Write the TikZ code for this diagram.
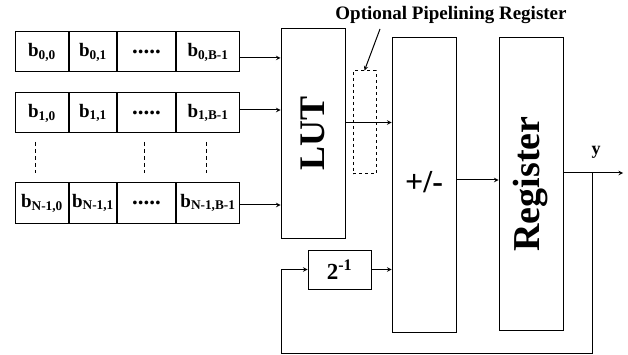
\documentclass[tikz,border=0pt]{standalone}
\usepackage{fontspec}
\setmainfont{Liberation Serif}

\tikzset{
    blk/.style={draw, line width=1pt, inner sep=0pt, font=\bfseries},
    cell/.style={draw, line width=1pt, inner sep=0pt, anchor=west,
        minimum width=#1, minimum height=40pt,
        font=\fontsize{19}{19}\selectfont\bfseries},
}

\begin{document}
\begin{tikzpicture}[x=1pt, y=-1pt, >=stealth, line width=1pt]
    \useasboundingbox (0,0) rectangle (628,355);

    % main blocks
    \node[blk, minimum width=64pt, minimum height=209pt,
        font=\fontsize{36}{36}\selectfont\bfseries] (lut) at (313,133.5) {\rotatebox{90}{LUT}};
    \node[blk, dashed, minimum width=23pt, minimum height=103pt] (pipe) at (364.5,122.5) {};
    \node[blk, minimum width=64pt, minimum height=294pt,
        font=\fontsize{32}{32}\selectfont\bfseries] (add) at (424,185) {\raisebox{6pt}{+/-}};
    \node[blk, minimum width=64pt, minimum height=292pt,
        font=\fontsize{38}{38}\selectfont\bfseries] (reg) at (531,184) {\rotatebox{90}{Register}};
    \node[blk, minimum width=63pt, minimum height=39pt,
        font=\fontsize{23}{23}\selectfont\bfseries] (half) at (339.5,269.5) {2\textsuperscript{-1}};

    % bit rows
    \foreach \r/\y/\s/\d in {0/52/0/-6pt, 1/113/1/3pt, 2/203/N-1/-2pt} {
        \node[cell=53pt] (row\r-a) at (15,\y) {b\textsubscript{\s,0}};
        \node[cell=47pt] (row\r-b) at (row\r-a.east) {b\textsubscript{\s,1}};
        \node[cell=58pt, font=\fontsize{23}{23}\selectfont\bfseries] (row\r-c) at (row\r-b.east) {.....};
        \node[cell=63pt] (row\r-d) at (row\r-c.east) {b\textsubscript{\s,B-1}};
        \draw[->] ([yshift=\d]row\r-d.east) -- ([yshift=\d]row\r-d.east -| lut.west);
    }
    \foreach \x in {35,144,206} {
        \draw[dash pattern=on 4pt off 3pt] (\x,142) -- (\x,173);
    }

    % data path
    \draw[->] (lut.east |- pipe) -- (pipe -| add.west);
    \draw[->] (half.east) -- (half.east -| add.west);
    \draw[->] ([yshift=5pt]add.east) -- ([yshift=5pt]add.east -| reg.west);

    \coordinate (out) at (623,173);
    \coordinate (tap) at (592,173);
    \coordinate (fb) at (281,353);
    \draw[->] (reg.east |- out) -- (out);
    \draw[->] (tap) |- (fb) |- (half.west);
    \node[font=\fontsize{18}{18}\selectfont\bfseries] (ylab) at (596,152) {y};

    % label
    \node[font=\fontsize{19}{19}\selectfont\bfseries] (title) at (451,15) {Optional Pipelining Register};
    \coordinate (tp) at (380,29);
    \draw[->] (tp) -- (pipe.north);
\end{tikzpicture}
\end{document}
